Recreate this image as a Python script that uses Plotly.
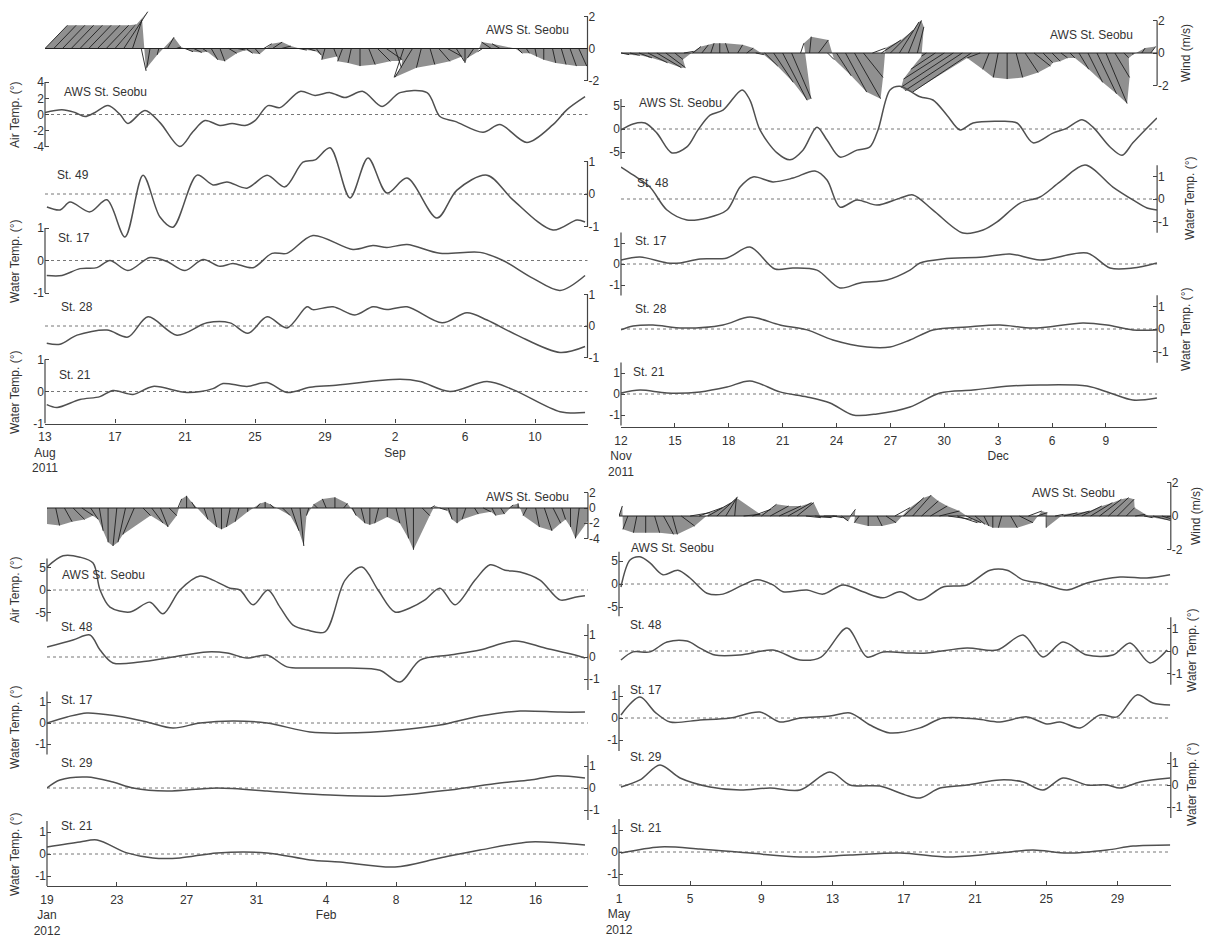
import numpy as np
import plotly.graph_objects as go

W, H = 1222, 941          # reference picture size in pixels
OFF = 8                   # default page margin around the plot div
FW, FH = W - OFF, H - OFF  # figure size so that it fills the window exactly
FONT = "Liberation Sans, Arial, sans-serif"
INK = "#333333"
AXC = "#444444"
LINE = "#505050"
WIND_STEP = 0.5  # days between wind samples

# ---------------- 13 Aug - 13 Sep 2011 ----------------
AUG_TICKVALS = [0, 4, 8, 12, 16, 20, 24, 28]
AUG_TICKTEXT = ["13<br>Aug<br>2011", "17", "21", "25", "29", "2<br>Sep", "6", "10"]
AUG_WIND_U = [1.4, 1.4, 1.4, 1.4, 1.4, 1.4, 1.4, 1.4, 1.3, 1.5, 0.6, 0.3, -0.2, -0.1, 0.4, 0.3,
              0.5, 0.5, 0.3, 0.4, 0.3, 0.5, 0.5, 0.4, 0.3, 0.5, 0.6, 0.6, 0.6, 0.5, 0.5, 0.3,
              -0.2, 0.2, -0.3, -0.2, 0.0, 0.4, 0.8, 1.0, 0.4, -0.6, -1.1, -0.3, 0.3, 0.7, 0.9, 0.5,
              0.0, -0.4, -0.3, -0.6, -0.5, 0.4, 0.3, 0.2, 0.1, 0.0, 0.2, 0.3, 0.4, 0.5, 0.6]
AUG_WIND_V = [1.45, 1.45, 1.45, 1.45, 1.45, 1.45, 1.45, 1.45, 1.5, 2.3, 1.8, -1.4, -1.2, -0.4, 0.7, 0.1,
              -0.2, -0.25, -0.2, -0.7, -0.8, -0.3, -0.1, -0.3, -0.35, 0.3, 0.4, 0.15, 0.0, -0.1, -0.15, -0.4,
              -0.7, -0.5, -0.8, -0.9, -1.1, -1.0, -0.8, -0.7, -1.2, -1.8, -1.8, -1.2, -1.0, -0.8, -0.5, -0.8,
              -0.9, -0.6, -0.2, 0.4, 0.3, 0.0, -0.3, -0.3, -0.5, -0.7, -0.9, -1.0, -1.1, -1.1, -1.2]
AUG_AIR_DAY = [0, 0.97, 1.71, 2.29, 2.86, 3.6, 4.29, 4.74, 5.71, 6.57, 7.71, 8.46, 9.14, 10.0, 10.69,
               11.43, 12.0, 12.74, 13.43, 14.57, 15.43, 16.29, 17.14, 18.17, 19.26, 20.29, 21.83, 22.57,
               23.43, 25.03, 26.0, 27.54, 29.03, 29.83, 30.86]
AUG_AIR_VAL = [0.25, 0.6, 0.25, -0.25, 0.25, 1.1, 0, -1.1, 0.5, -1.0, -3.95, -2.1, -0.75, -1.35, -1.1,
               -1.35, -0.75, 1.1, 0.85, 2.85, 2.35, 2.7, 2.1, 2.85, 1.0, 2.7, 2.7, -0.25,
               -0.85, -2.2, -1.25, -3.45, -1.25, 0.6, 2.2]
AUG_ST49_DAY = [0.11, 0.86, 1.43, 2.57, 3.54, 4.57, 5.6, 6.57, 7.31, 8.69, 9.6, 10.4, 11.54, 12.69, 13.71,
                14.74, 15.43, 16.29, 17.43, 18.46, 19.54, 20.69, 22.4, 23.54, 25.26, 26.74, 29.03, 30.4, 30.86]
AUG_ST49_VAL = [-0.4, -0.49, -0.25, -0.55, -0.18, -1.32, 0.58, -0.71, -1.02, 0.58, 0.28, 0.37, 0.18, 0.58, 0.22,
                0.98, 1.05, 1.42, -0.12, 1.11, 0.03, 0.49, -0.74, 0.12, 0.58, -0.18, -1.11, -0.8, -0.86]
AUG_ST17_DAY = [0.1, 0.97, 2.0, 2.97, 3.71, 4.74, 6.0, 6.97, 8.0, 9.03, 10.0, 10.74, 11.89, 12.97, 13.83,
                15.31, 17.6, 18.74, 19.54, 20.69, 22.57, 24.86, 26.17, 27.89, 29.43, 30.86]
AUG_ST17_VAL = [-0.46, -0.46, -0.25, -0.22, 0, -0.31, 0.09, -0.03, -0.31, 0.03, -0.18, -0.09, -0.22, 0.22, 0.22,
                0.77, 0.34, 0.46, 0.4, 0.49, 0.22, 0.25, 0, -0.55, -0.92, -0.46]
AUG_ST28_DAY = [0.1, 0.86, 1.83, 3.54, 4.74, 5.89, 7.54, 9.26, 10.57, 11.6, 12.69, 13.83, 14.97, 15.31,
                16.46, 17.71, 18.74, 19.54, 20.69, 22.69, 24.11, 25.26, 26.97, 29.43, 30.86]
AUG_ST28_VAL = [-0.55, -0.58, -0.29, -0.13, -0.35, 0.29, -0.29, 0.1, 0.1, -0.23, 0.29, -0.06, 0.61, 0.52,
                0.61, 0.35, 0.61, 0.52, 0.61, 0.1, 0.42, 0.19, -0.29, -0.84, -0.65]
AUG_ST21_DAY = [0.1, 0.69, 2.0, 3.14, 3.89, 5.03, 6.17, 8.11, 9.6, 10.17, 11.54, 12.69, 13.83, 15.14,
                16.46, 20.29, 21.43, 23.14, 25.26, 26.74, 29.43, 30.86]
AUG_ST21_VAL = [-0.41, -0.5, -0.25, -0.16, 0.03, -0.09, 0.16, -0.03, 0.09, 0.25, 0.16, 0.28, -0.03, 0.13,
                0.19, 0.38, 0.31, 0, 0.31, 0.06, -0.63, -0.66]

# ---------------- 12 Nov - 12 Dec 2011 ----------------
NOV_TICKVALS = [0, 3, 6, 9, 12, 15, 18, 21, 24, 27]
NOV_TICKTEXT = ["12<br>Nov<br>2011", "15", "18", "21", "24", "27", "30", "3<br>Dec", "6", "9"]
NOV_WIND_U = [0.5, 0.6, 0.8, 1.2, 1.5, 1.2, 0.5, 0.6, 0.5, 0.4, 0.2, 0.0, -0.2, 0.3, 0.4, 0.5,
              0.8, 1.2, 1.5, 1.2, 0.2, 0.1, 0.6, 0.4, 0.9, 1.3, 1.6, 1.2, 0.8, 1.2, 1.4, 1.2,
              0.8, 0.4, -0.3, -1.5, -2.5, -3.2, -3.5, -3.6, -0.8, -0.4, -0.3, 0.0, 0.4, 0.8, 1.0, 0.6,
              0.5, 0.4, 0.3, 0.6, 0.9, 1.2, 1.3, 0.9, 0.3, 0.0, 0.2, 0.3]
NOV_WIND_V = [-0.1, -0.15, -0.3, -0.6, -0.9, -0.9, -0.4, 0.1, 0.4, 0.5, 0.6, 0.6, 0.6, 0.5, 0.3, -0.1,
              -0.8, -1.8, -2.9, -2.8, 0.6, 1.0, 0.8, -0.4, -1.4, -2.4, -2.8, -1.5, 0.3, 0.8, 1.4, 1.9,
              2.0, 1.6, -0.2, -1.0, -1.6, -2.1, -2.3, -2.4, -0.3, -1.0, -1.5, -1.6, -1.5, -1.2, -0.8, -0.6,
              -0.5, -0.3, -0.3, -1.0, -1.8, -2.5, -3.1, -1.5, -0.3, -0.1, 0.3, 0.4]
NOV_AIR_DAY = [0, 0.67, 1.34, 2.0, 2.84, 3.67, 4.29, 4.96, 5.68, 6.74, 7.18, 7.74, 8.69, 9.41, 10.13,
               10.91, 11.47, 12.19, 13.14, 13.86, 14.31, 14.98, 15.53, 16.65, 17.37, 18.15, 18.88, 19.6,
               21.1, 22.05, 22.94, 24.05, 24.83, 25.67, 26.28, 27.23, 27.9, 28.5, 29.18, 29.84]
NOV_AIR_VAL = [-0.2, 1.1, 1.3, -0.9, -5.2, -3.9, -0.2, 3.0, 4.1, 8.5, 6.3, -0.2, -5.2, -6.7, -4.6,
               0.4, -2.4, -6.1, -4.6, -3.9, -0.2, 8.5, 9.3, 7.0, 6.3, 3.0, -0.2, 1.3,
               1.7, 1.3, -3.0, -0.9, 0.2, 2.0, 0.4, -3.9, -5.7, -3.0, -0.2, 2.4]
NOV_ST48_DAY = [0, 0.67, 1.61, 2.56, 3.67, 4.79, 5.9, 6.63, 7.35, 8.46, 9.58, 10.8, 11.47, 12.19, 13.14,
                14.25, 15.53, 16.26, 17.37, 19.04, 20.16, 20.94, 22.22, 23.33, 24.44, 25.84, 27.39, 28.5,
                29.29, 29.84]
NOV_ST48_VAL = [1.42, 1.07, 0.53, -0.49, -0.93, -0.84, -0.49, 0.53, 0.98, 0.76, 0.93, 1.24, 0.84, -0.36, -0.04,
                -0.27, 0.04, 0.18, -0.49, -1.51, -1.38, -1.02, -0.18, 0.09, 0.76, 1.51, 0.53, -0.04,
                -0.4, -0.49]
NOV_ST17_DAY = [0, 1.06, 2.56, 3.29, 4.4, 5.9, 7.18, 8.57, 9.58, 10.91, 12.19, 13.31, 14.81, 16.09, 16.65,
                17.93, 20.16, 21.66, 23.33, 25.95, 27.23, 28.5, 29.84]
NOV_ST17_VAL = [0.19, 0.33, 0.05, 0.05, 0.24, 0.29, 0.81, -0.24, -0.19, -0.29, -1.14, -0.9, -0.76, -0.29, 0.05,
                0.24, 0.33, 0.48, 0.19, 0.52, -0.19, -0.19, 0.05]
NOV_ST28_DAY = [0, 0.67, 1.78, 3.45, 5.68, 7.18, 8.85, 10.36, 11.8, 13.7, 14.98, 16.09, 17.37, 19.27,
                21.1, 22.94, 25.72, 27.06, 28.5, 29.84]
NOV_ST28_VAL = [-0.04, 0.13, 0.18, 0.04, 0.18, 0.53, 0.18, -0.04, -0.49, -0.8, -0.8, -0.49, -0.04, 0.09,
                0.18, 0.04, 0.27, 0.18, -0.04, -0.04]
NOV_ST21_DAY = [0, 1.06, 2.56, 4.4, 5.9, 7.18, 8.85, 10.36, 11.64, 12.92, 14.25, 16.09, 17.76, 19.6,
                21.66, 23.33, 25.95, 27.23, 28.5, 29.84]
NOV_ST21_VAL = [0.05, 0.19, 0.05, 0.1, 0.33, 0.62, 0.1, -0.14, -0.43, -1.0, -0.95, -0.62, 0.05, 0.19,
                0.38, 0.43, 0.38, 0.05, -0.29, -0.19]

# ---------------- 19 Jan - 19 Feb 2012 ----------------
JAN_TICKVALS = [0, 4, 8, 12, 16, 20, 24, 28]
JAN_TICKTEXT = ["19<br>Jan<br>2012", "23", "27", "31", "4<br>Feb", "8", "12", "16"]
JAN_WIND_U = [-1.0, 0.5, 1.0, 1.5, 1.5, 1.0, 0.5, 0.0, -0.5, -1.0, -1.5, 1.0, 1.5, 1.0, 1.0, 0.5,
              0.0, -0.5, 0.5, 0.5, 0.0, -0.5, -0.5, 0.0, 0.5, 0.0, -0.5, 1.0, 1.0, 0.5, -0.3, -0.5,
              -0.5, 0.0, 0.5, 0.5, 0.5, 0.0, -0.5, 0.0, 0.5, 0.5, 0.0, 1.0, 0.5, 1.0, 0.5, 0.0,
              -0.5, 0.5, 1.0, 0.5, 0.5, 0.5, 0.0, -0.5, 0.5, 1.0, 1.0, 0.5, 0.0, -0.5, 0.5]
JAN_WIND_V = [-2.0, -2.3, -1.8, -1.5, -1.0, -1.5, -3.0, -4.5, -5.0, -4.5, -3.5, -1.0, -2.0, -2.5, -1.0, 1.2,
              1.6, 0.8, -1.5, -2.5, -2.8, -2.5, -1.8, -0.5, 0.6, 0.8, 0.5, -1.0, -3.0, -5.0, -1.0, 0.5,
              1.2, 1.4, 0.6, -1.0, -2.0, -2.2, -2.0, -1.2, -2.0, -4.0, -5.5, -1.0, 0.3, -0.3, -1.5, -2.0,
              -1.5, -0.8, -0.5, -1.0, -0.8, 0.4, 0.6, -1.0, -2.5, -3.0, -2.0, -1.5, -2.5, -4.0, -1.0]
JAN_AIR_DAY = [0, 0.92, 1.89, 2.64, 3.04, 3.61, 4.76, 5.9, 6.65, 7.62, 8.77, 9.51, 10.49, 11.06, 11.81,
               12.66, 13.35, 14.1, 14.9, 15.93, 17.08, 18.05, 18.97, 19.94, 20.8, 21.66, 22.52, 23.38,
               24.53, 25.39, 26.25, 27.11, 28.25, 29.4, 30.26, 30.83]
JAN_AIR_VAL = [5.1, 7.6, 7.3, 6.0, 0, -3.8, -4.9, -2.7, -5.3, 0, 3.1, 2.2, 0.4, 0, -3.3,
               0, -3.8, -7.8, -8.9, -9.3, 2.2, 5.1, 0, -4.9, -4.0, -2.2, 0.4, -3.3,
               2.2, 5.6, 4.4, 4.0, 2.2, -2.2, -1.6, -1.3]
JAN_ST48_DAY = [0, 1.49, 2.46, 3.04, 3.78, 5.33, 7.22, 9.17, 10.32, 11.46, 12.61, 13.75, 15.07, 17.36,
                19.08, 20.23, 21.38, 23.09, 24.81, 26.82, 28.54, 30.26, 30.83]
JAN_ST48_VAL = [0.45, 0.77, 1.0, 0.32, -0.27, -0.23, 0, 0.23, 0.18, -0.05, 0.09, -0.45, -0.5, -0.5,
                -0.6, -1.14, -0.14, 0.09, 0.32, 0.73, 0.41, 0.09, -0.05]
JAN_ST17_DAY = [0, 1.15, 2.29, 4.01, 5.73, 7.22, 8.77, 10.66, 12.61, 15.07, 17.08, 20.23, 22.52, 24.81,
                27.11, 29.4, 30.83]
JAN_ST17_VAL = [0, 0.29, 0.48, 0.33, 0.05, -0.24, 0, 0.1, 0, -0.43, -0.48, -0.33, -0.1, 0.33,
                0.57, 0.52, 0.52]
JAN_ST29_DAY = [0, 0.74, 2.29, 3.78, 4.93, 6.88, 9.74, 12.61, 14.1, 16.22, 19.66, 23.09, 25.96, 27.68,
                29.11, 30.83]
JAN_ST29_VAL = [0, 0.36, 0.5, 0.27, 0, -0.14, 0, -0.14, -0.23, -0.32, -0.36, -0.09, 0.23, 0.36,
                0.55, 0.45]
JAN_ST21_DAY = [0, 1.89, 2.87, 4.58, 6.07, 7.62, 9.74, 12.61, 15.07, 16.79, 19.94, 22.52, 24.81, 27.68,
                29.4, 30.83]
JAN_ST21_VAL = [0.32, 0.55, 0.64, 0.05, -0.18, -0.18, 0.05, 0.05, -0.27, -0.36, -0.59, -0.18, 0.18, 0.55,
                0.5, 0.41]

# ---------------- 1 May - 1 Jun 2012 ----------------
MAY_TICKVALS = [0, 4, 8, 12, 16, 20, 24, 28]
MAY_TICKTEXT = ["1<br>May<br>2012", "5", "9", "13", "17", "21", "25", "29"]
MAY_WIND_U = [0.2, -0.3, -0.2, 0.0, 0.3, 0.6, 0.3, 0.8, 1.2, 1.4, 1.4, 1.1, 0.7, 0.1, 1.0, 1.1,
              0.9, 1.1, 1.3, 1.4, 1.0, 0.9, 1.0, 0.8, 0.6, 0.4, 0.3, -0.3, 0.0, 0.3, 0.6, 0.9,
              1.2, 1.1, 1.0, 1.0, 1.2, 1.4, 1.2, 0.9, 0.6, 0.3, 0.0, -0.2, 0.4, 0.8, 0.8, 0.6,
              0.0, 0.5, 0.8, 1.0, 1.2, 1.3, 1.3, 1.2, 1.0, 0.5, 0.6, 0.5, 1.2, 1.5, 1.0]
MAY_WIND_V = [0.6, -0.8, -1.0, -1.0, -1.0, -1.1, -1.1, -0.6, 0.2, 0.5, 0.8, 1.0, 1.15, 1.1, 0.1, 0.4,
              0.7, 0.6, 0.6, 0.8, 0.8, -0.1, -0.1, 0.0, -0.1, -0.3, 0.4, -0.4, -0.6, -0.6, -0.4, 0.5,
              1.1, 1.25, 0.9, 0.6, 0.3, -0.2, -0.4, -0.4, -0.5, -0.6, -0.7, -0.7, -0.7, -0.4, 0.3, 0.2,
              -0.7, 0.1, 0.2, 0.3, 0.6, 0.8, 1.0, 1.1, 1.0, 0.5, 0.1, -0.1, -0.3, -0.45, -0.3]
MAY_AIR_DAY = [0.11, 0.62, 1.18, 1.74, 2.47, 3.31, 3.99, 4.94, 5.84, 6.97, 7.75, 8.65, 9.21, 10.56, 11.46,
               12.58, 13.71, 14.83, 15.79, 16.91, 18.2, 19.55, 20.84, 21.8, 22.7, 23.65, 25.17, 26.29,
               28.15, 29.66, 30.96]
MAY_AIR_VAL = [-0.65, 5.2, 5.9, 4.6, 2.0, 3.0, 1.3, -2.0, -2.2, -0.2, 0.9, -0.2, -1.7, -1.3, -2.2,
               -0.2, -1.7, -3.0, -1.7, -3.5, -0.65, -0.2, 3.0, 3.0, 0.9, 0.2, -1.3, 0.2,
               1.5, 1.3, 2.0]
MAY_ST48_DAY = [0.11, 0.79, 1.74, 2.7, 3.82, 4.55, 5.39, 6.8, 8.65, 10.17, 11.35, 12.81, 13.93, 14.83,
                16.35, 17.3, 19.55, 21.24, 22.7, 23.82, 24.94, 26.29, 27.75, 28.71, 29.83, 30.79]
MAY_ST48_VAL = [-0.4, -0.04, -0.04, 0.4, 0.44, 0.13, -0.18, -0.18, 0.04, -0.4, -0.27, 1.02, -0.27, -0.04,
                -0.09, -0.09, 0.13, 0.04, 0.71, -0.27, 0.4, -0.18, -0.18, 0.36, -0.53, 0.04]
MAY_ST17_DAY = [0.11, 1.18, 2.02, 2.87, 4.55, 6.24, 7.92, 9.04, 10.17, 11.85, 12.98, 14.1, 15.22, 16.91,
                18.2, 20.11, 21.4, 22.92, 24.04, 24.78, 25.9, 27.02, 27.98, 29.1, 30.0, 30.96]
MAY_ST17_VAL = [0.14, 0.95, 0.27, -0.18, -0.09, 0, 0.27, -0.18, 0, 0.09, 0.23, -0.32, -0.68, -0.45,
                0, -0.05, -0.18, 0.05, -0.27, -0.18, -0.45, 0.14, 0.05, 1.05, 0.68, 0.59]
MAY_ST29_DAY = [0.11, 1.18, 2.3, 3.43, 5.11, 6.8, 8.48, 10.17, 11.85, 12.98, 14.66, 16.07, 16.91, 18.03,
                19.55, 21.4, 22.7, 23.82, 24.94, 26.29, 27.42, 28.15, 29.27, 30.96]
MAY_ST29_VAL = [-0.09, 0.23, 0.91, 0.32, -0.09, -0.23, -0.14, -0.23, 0.59, 0, -0.05, -0.45, -0.59, -0.14,
                0, 0.23, 0.14, -0.23, 0.32, 0, 0, -0.14, 0.14, 0.32]
MAY_ST21_DAY = [0.11, 2.3, 4.55, 7.36, 10.17, 12.98, 15.79, 18.6, 21.4, 23.26, 25.17, 27.42, 28.88, 30.96]
MAY_ST21_VAL = [-0.05, 0.23, 0.14, -0.05, -0.23, -0.14, -0.05, -0.23, -0.05, 0.09, -0.05, 0.09, 0.27, 0.32]

TEMP_AIR = "Air Temp. (°)"
TEMP_WATER = "Water Temp. (°)"
WIND = "Wind (m/s)"
AWS = "AWS St. Seobu"


def wrow(u, v, zero, ppu, dom, ticks, bracket, label, title=None):
    return dict(kind="wind", u=u, v=v, zero=zero, ppu=ppu, dom=dom, side="right",
                ticks=ticks, bracket=bracket, label=label, title=title)


def trow(t, v, zero, ppu, dom, side, ticks, bracket, label, title=None):
    return dict(kind="line", t=t, v=v, zero=zero, ppu=ppu, dom=dom, side=side,
                ticks=ticks, bracket=bracket, label=label, title=title)


# all positions below are page pixels of the reference picture
PANELS = [
    dict(x0=45, pxday=17.5, ndays=31, tickvals=AUG_TICKVALS, ticktext=AUG_TICKTEXT, rows=[
        wrow(AUG_WIND_U, AUG_WIND_V, 48.5, 16, (8, 100), [-2, 0, 2], (-2, 2), (AWS, 527, 30)),
        trow(AUG_AIR_DAY, AUG_AIR_VAL, 114.5, 8.1, (70, 160), "left", [-4, -2, 0, 2, 4], (-4, 4),
             (AWS, 106, 92), (TEMP_AIR, 15, 115)),
        trow(AUG_ST49_DAY, AUG_ST49_VAL, 194, 32.5, (140, 250), "right", [-1, 0, 1], (-1, 1), ("St. 49", 73, 175)),
        trow(AUG_ST17_DAY, AUG_ST17_VAL, 260.5, 32.5, (215, 305), "left", [-1, 0, 1], (-1, 1),
             ("St. 17", 74, 238), (TEMP_WATER, 15, 262)),
        trow(AUG_ST28_DAY, AUG_ST28_VAL, 326, 31.5, (285, 370), "right", [-1, 0, 1], (-1, 1), ("St. 28", 77, 307)),
        trow(AUG_ST21_DAY, AUG_ST21_VAL, 391.5, 32, (340, 423.5), "left", [-1, 0, 1], (-1, 1),
             ("St. 21", 75, 375), (TEMP_WATER, 15, 393)),
    ]),
    dict(x0=621, pxday=17.96, ndays=29.85, tickvals=NOV_TICKVALS, ticktext=NOV_TICKTEXT, rows=[
        wrow(NOV_WIND_U, NOV_WIND_V, 53, 16.3, (8, 115), [-2, 0, 2], (-2, 2), (AWS, 1091, 35), (WIND, 1186, 53)),
        trow(NOV_AIR_DAY, NOV_AIR_VAL, 129, 4.6, (80, 170), "left", [-5, 0, 5], (-6.5, 6.5), (AWS, 680, 103)),
        trow(NOV_ST48_DAY, NOV_ST48_VAL, 199, 22.5, (155, 245), "right", [-1, 0, 1], (-1.5, 1.5),
             ("St. 48", 653, 183), (TEMP_WATER, 1190, 199)),
        trow(NOV_ST17_DAY, NOV_ST17_VAL, 264, 21, (225, 300), "left", [-1, 0, 1], (-1.5, 1.5), ("St. 17", 651, 241)),
        trow(NOV_ST28_DAY, NOV_ST28_VAL, 329, 22.5, (290, 365), "right", [-1, 0, 1], (-1.5, 1.5),
             ("St. 28", 651, 309), (TEMP_WATER, 1186, 330)),
        trow(NOV_ST21_DAY, NOV_ST21_VAL, 394, 21, (355, 427), "left", [-1, 0, 1], (-1.5, 1.5), ("St. 21", 649, 372)),
    ]),
    dict(x0=47, pxday=17.45, ndays=31, tickvals=JAN_TICKVALS, ticktext=JAN_TICKTEXT, rows=[
        wrow(JAN_WIND_U, JAN_WIND_V, 508, 7.6, (470, 568), [-4, -2, 0, 2], (-4, 2), (AWS, 527, 497)),
        trow(JAN_AIR_DAY, JAN_AIR_VAL, 590, 4.5, (545, 640), "left", [-5, 0, 5], (-7, 7),
             (AWS, 103, 575), (TEMP_AIR, 15, 590)),
        trow(JAN_ST48_DAY, JAN_ST48_VAL, 657, 22, (620, 690), "right", [-1, 0, 1], (-1.5, 1.5), ("St. 48", 77, 627)),
        trow(JAN_ST17_DAY, JAN_ST17_VAL, 723, 21, (690, 760), "left", [-1, 0, 1], (-1.5, 1.5),
             ("St. 17", 77, 700), (TEMP_WATER, 15, 728)),
        trow(JAN_ST29_DAY, JAN_ST29_VAL, 788, 22, (755, 820), "right", [-1, 0, 1], (-1.5, 1.5), ("St. 29", 77, 763)),
        trow(JAN_ST21_DAY, JAN_ST21_VAL, 854, 22, (815, 886), "left", [-1, 0, 1], (-1.5, 1.5),
             ("St. 21", 77, 826), (TEMP_WATER, 15, 855)),
    ]),
    dict(x0=619, pxday=17.8, ndays=31, tickvals=MAY_TICKVALS, ticktext=MAY_TICKTEXT, rows=[
        wrow(MAY_WIND_U, MAY_WIND_V, 516, 16.7, (470, 560), [-2, 0, 2], (-2, 2), (AWS, 1073, 493), (WIND, 1196, 516)),
        trow(MAY_AIR_DAY, MAY_AIR_VAL, 584, 4.6, (540, 630), "left", [-5, 0, 5], (-7, 7), (AWS, 672, 548)),
        trow(MAY_ST48_DAY, MAY_ST48_VAL, 651, 22.5, (615, 690), "right", [-1, 0, 1], (-1.5, 1.5),
             ("St. 48", 646, 625), (TEMP_WATER, 1192, 651)),
        trow(MAY_ST17_DAY, MAY_ST17_VAL, 718, 22, (680, 755), "left", [-1, 0, 1], (-1.5, 1.5), ("St. 17", 646, 690)),
        trow(MAY_ST29_DAY, MAY_ST29_VAL, 785, 22, (745, 820), "right", [-1, 0, 1], (-1.5, 1.5),
             ("St. 29", 646, 757), (TEMP_WATER, 1192, 785)),
        trow(MAY_ST21_DAY, MAY_ST21_VAL, 852, 22, (815, 885), "left", [-1, 0, 1], (-1.5, 1.5), ("St. 21", 646, 828)),
    ]),
]


def px_x(px):
    return (px - OFF) / FW


def px_y(py):
    return 1 - (py - OFF) / FH


fig = go.Figure()
layout = dict(width=FW, height=FH, margin=dict(l=0, r=0, t=0, b=0, autoexpand=False), showlegend=False,
              paper_bgcolor="white", plot_bgcolor="rgba(0,0,0,0)",
              font=dict(family=FONT, size=12, color=INK))
shapes, annotations = [], []

n = 0
for p in PANELS:
    xl, xr = p["x0"], p["x0"] + p["ndays"] * p["pxday"]
    for i, r in enumerate(p["rows"]):
        n += 1
        sfx = "" if n == 1 else str(n)
        xa, ya = "x" + sfx, "y" + sfx
        bottom = i == len(p["rows"]) - 1
        xax = dict(domain=[px_x(xl), px_x(xr)], range=[0, p["ndays"]], anchor=ya, showgrid=False,
                   zeroline=False, visible=bottom, fixedrange=True, automargin=False)
        if bottom:
            xax.update(showline=True, linecolor=AXC, linewidth=1.2, ticks="inside", ticklen=4,
                       tickcolor=AXC, tickvals=p["tickvals"], ticktext=p["ticktext"],
                       ticklabelstandoff=2, tickfont=dict(size=12, color=INK))
        layout["xaxis" + sfx] = xax
        top, bot = r["dom"]
        layout["yaxis" + sfx] = dict(
            domain=[px_y(bot), px_y(top)],
            range=[(r["zero"] - bot) / r["ppu"], (r["zero"] - top) / r["ppu"]],
            anchor=xa, side=r["side"], showgrid=False, zeroline=False, showline=False,
            ticks="inside", ticklen=4, tickcolor=AXC, tickvals=r["ticks"],
            ticktext=[str(t) for t in r["ticks"]], tickfont=dict(size=12, color=INK),
            fixedrange=True, automargin=False)

        edge = 0 if r["side"] == "left" else 1
        shapes.append(dict(type="line", xref=xa + " domain", yref=ya, x0=edge, x1=edge,
                           y0=r["bracket"][0], y1=r["bracket"][1], line=dict(color=AXC, width=1.2)))

        if r["kind"] == "wind":
            k = r["ppu"] / p["pxday"]  # days per m/s so sticks keep true direction on screen
            days = np.arange(len(r["u"])) * WIND_STEP
            tipx = days + np.array(r["u"]) * k
            tipy = np.array(r["v"], dtype=float)
            # swept area between neighbouring sticks, shaded like the dense original fans
            fx, fy = [], []
            for j in range(len(days) - 1):
                fx += [days[j], tipx[j], tipx[j + 1], days[j + 1], None]
                fy += [0, tipy[j], tipy[j + 1], 0, None]
            fig.add_trace(go.Scatter(x=fx, y=fy, xaxis=xa, yaxis=ya, mode="lines", fill="toself",
                                     fillcolor="rgba(70,70,70,0.6)", line=dict(width=0),
                                     hoverinfo="skip"))
            xs, ys = [], []
            for t, tx, ty in zip(days, tipx, tipy):
                xs += [t, tx, None]
                ys += [0, ty, None]
            fig.add_trace(go.Scatter(x=xs, y=ys, xaxis=xa, yaxis=ya, mode="lines",
                                     line=dict(color="#1e1e1e", width=0.9), hoverinfo="skip"))
            shapes.append(dict(type="line", xref=xa + " domain", yref=ya, x0=0, x1=1, y0=0, y1=0,
                               line=dict(color="#222", width=1.2)))
        else:
            shapes.append(dict(type="line", xref=xa + " domain", yref=ya, x0=0, x1=1, y0=0, y1=0,
                               layer="below", line=dict(color="#777", width=1, dash="dot")))
            fig.add_trace(go.Scatter(x=r["t"], y=r["v"], xaxis=xa, yaxis=ya, mode="lines",
                                     line=dict(color=LINE, width=1.5, shape="spline", smoothing=0.9)))

        text, lx, ly = r["label"]
        annotations.append(dict(xref="paper", yref="paper", x=px_x(lx), y=px_y(ly), text=text,
                                showarrow=False, xanchor="center", yanchor="middle",
                                font=dict(size=12, color=INK)))
        if r["title"]:
            text, tx, ty = r["title"]
            annotations.append(dict(xref="paper", yref="paper", x=px_x(tx), y=px_y(ty), text=text,
                                    showarrow=False, textangle=-90, xanchor="center", yanchor="middle",
                                    font=dict(size=12, color=INK)))

layout["shapes"] = shapes
layout["annotations"] = annotations
fig.update_layout(**layout)
fig.write_html("out.html")
